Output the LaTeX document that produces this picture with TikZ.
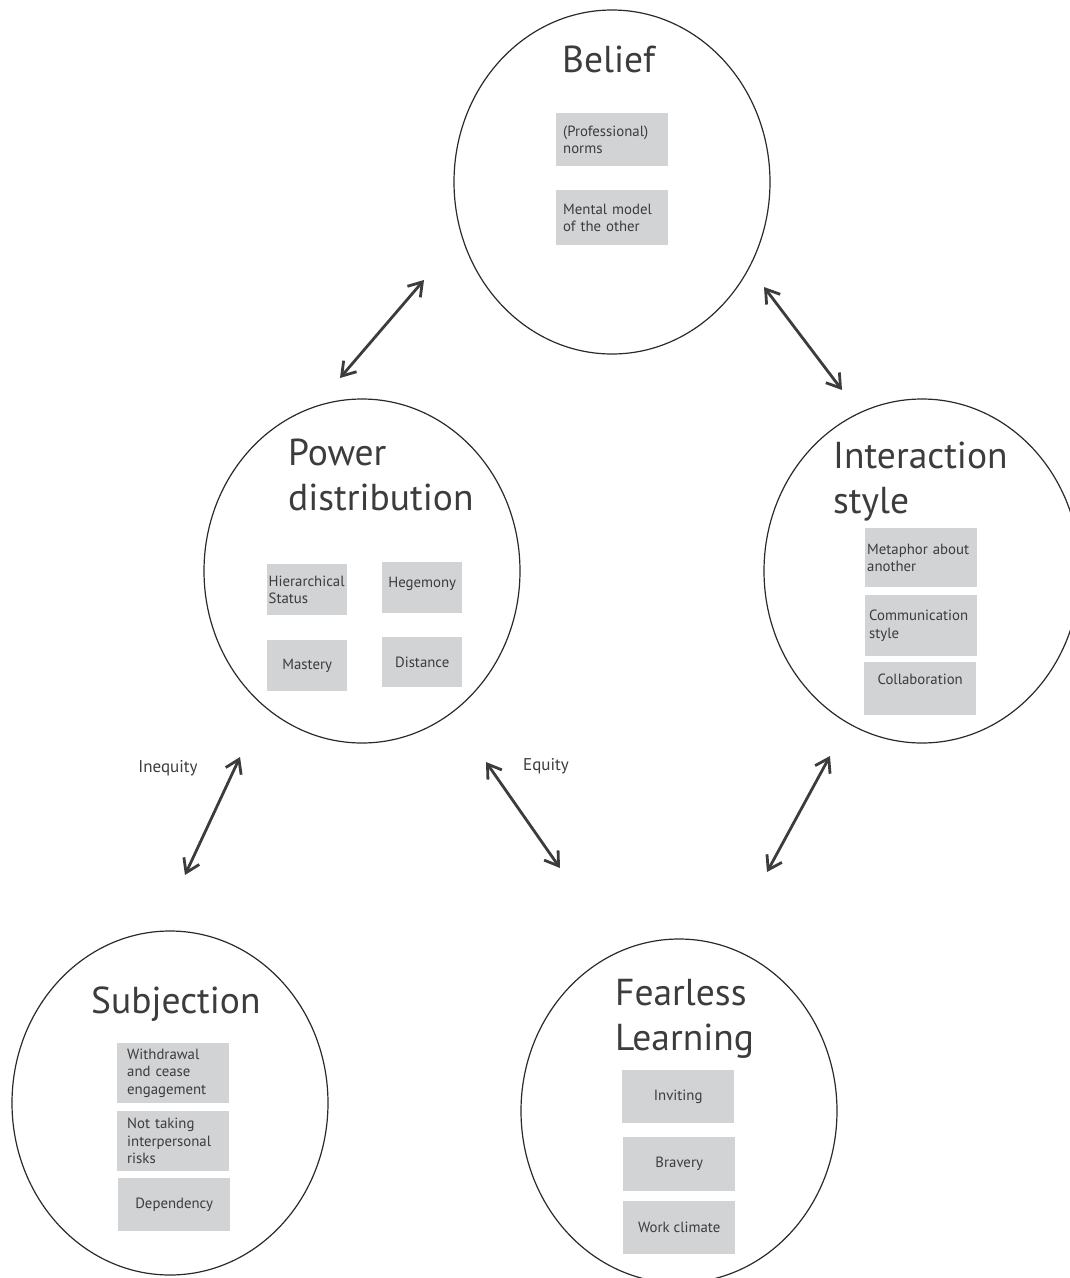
\documentclass[tikz,border=0pt]{standalone}
\usepackage{fontspec}
\setmainfont{PT Sans}
\usetikzlibrary{shapes.geometric,arrows.meta}

\definecolor{ink}{HTML}{3C3B3D}
\definecolor{rim}{HTML}{2B2A2B}
\definecolor{boxgray}{HTML}{D1D3D4}

\tikzset{
  area/.style={ellipse,draw=rim,line width=1.2pt,minimum width=316pt,minimum height=344pt,inner sep=0pt},
  heading/.style={text=ink,font=\fontsize{37.5}{45}\selectfont,align=left,anchor=base west,inner sep=0pt},
  item/.style={fill=boxgray,text=ink,font=\fontsize{14.8}{17.5}\selectfont,anchor=north west,inner sep=0pt,
    minimum width=112pt,minimum height=53pt,align=center},
  link/.style={draw=ink,line width=2.8pt,{Straight Barb[length=13pt,width=17pt]}-{Straight Barb[length=13pt,width=17pt]}},
  tag/.style={text=ink,font=\fontsize{17}{20}\selectfont}
}

\begin{document}
\begin{tikzpicture}[x=1pt,y=-1pt]
  \useasboundingbox (0,0) rectangle (1070,1278);
  \node[area] (belief) at (612,182) {};
  \node[area] (power) at (362,571) {};
  \node[area] (inter) at (922,571) {};
  \node[area] (subj) at (170,1103) {};
  \node[area] (fear) at (679,1111) {};

  \node[heading] (belief_t) at (562,72) {Belief};
  \node[heading] (power_t) at (288,510) {Power\\distribution};
  \node[heading] (inter_t) at (833,513) {Interaction\\style};
  \node[heading] (subj_t) at (91,1013) {Subjection};
  \node[heading] (fear_t) at (615,1050) {Fearless\\Learning};

  \node[item,align=left,text width=98pt,inner xsep=7pt] (norms) at (556,113) {(Professional)\\norms};
  \node[item,align=left,text width=98pt,inner xsep=7pt,minimum height=55pt] (model) at (556,190) {Mental model\\of the other};

  \node[item,align=left,text width=77pt,inner xsep=1.5pt,minimum width=80pt,minimum height=51pt] (status) at (267,564) {Hierarchical\\Status};
  \node[item,minimum width=80pt,minimum height=51pt,text depth=11pt] (hegemony) at (382,562) {Hegemony};
  \node[item,minimum width=80pt,minimum height=51pt] (mastery) at (267,640) {Mastery};
  \node[item,minimum width=80pt,minimum height=50pt] (distance) at (382,637) {Distance};

  \node[item,align=left,text width=108pt,inner xsep=2pt,minimum height=59pt] (metaphor) at (865,528) {Metaphor about\\another};
  \node[item,align=left,text width=104pt,inner xsep=4pt,minimum height=61pt] (commstyle) at (865,595) {Communication\\style};
  \node[item,text depth=19pt] (collab) at (864,662) {Collaboration};

  \node[item,align=left,text width=92pt,inner xsep=10pt,minimum height=60pt] (withdraw) at (117,1043) {Withdrawal\\and cease\\engagement};
  \node[item,align=left,text width=92pt,inner xsep=10pt,minimum height=60pt] (risks) at (117,1111) {Not taking\\interpersonal\\risks};
  \node[item] (depend) at (118,1178) {Dependency};

  \node[item] (inviting) at (622,1070) {Inviting};
  \node[item,minimum height=54pt] (bravery) at (623,1137) {Bravery};
  \node[item] (climate) at (623,1201) {Work climate};

  \coordinate (bp1) at (424,280);
  \coordinate (bp2) at (340,378);
  \coordinate (bi1) at (764,287);
  \coordinate (bi2) at (842,390);
  \coordinate (ps1) at (240,757);
  \coordinate (ps2) at (185,875);
  \coordinate (pf1) at (486,762);
  \coordinate (pf2) at (560,868);
  \coordinate (if1) at (830,756);
  \coordinate (if2) at (767,872);

  \draw[link] (bp1) -- (bp2);
  \draw[link] (bi1) -- (bi2);
  \draw[link] (ps1) -- (ps2);
  \draw[link] (pf1) -- (pf2);
  \draw[link] (if1) -- (if2);

  \node[tag] (inequity) at (168,768) {Inequity};
  \node[tag] (equity) at (546,766) {Equity};
\end{tikzpicture}
\end{document}
